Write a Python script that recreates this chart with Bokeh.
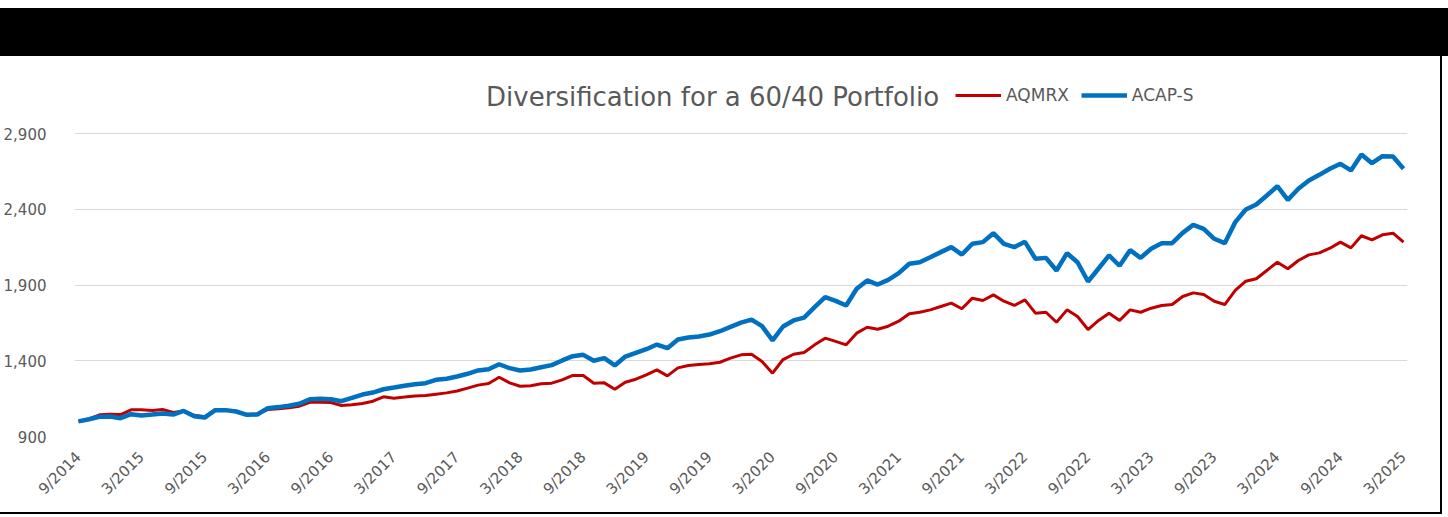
import math
import pandas as pd
from bokeh.plotting import figure
from bokeh.models import (Range1d, FixedTicker, NumeralTickFormatter, Legend,
                          LegendItem, Label, Div, ColumnDataSource)
from bokeh.layouts import column, row
from bokeh.embed import file_html
from bokeh.resources import INLINE

# ---- data -------------------------------------------------------------
months = [f"{d.month}/{d.year}" for d in pd.date_range("2014-09-01", periods=127, freq="MS")]

aqmrx = [1000, 1016, 1043, 1047, 1045, 1076, 1076, 1072, 1078, 1058,
         1069, 1040, 1030, 1074, 1074, 1065, 1045, 1047, 1078, 1083,
         1090, 1100, 1126, 1126, 1124, 1105, 1109, 1118, 1133, 1162,
         1153, 1160, 1168, 1170, 1179, 1188, 1200, 1219, 1239, 1250,
         1291, 1254, 1232, 1235, 1248, 1252, 1274, 1303, 1303, 1252,
         1254, 1212, 1258, 1278, 1307, 1340, 1300, 1353, 1369, 1375,
         1380, 1390, 1417, 1439, 1443, 1395, 1318, 1408, 1443, 1454,
         1505, 1549, 1528, 1505, 1582, 1621, 1608, 1628, 1661, 1710,
         1720, 1736, 1758, 1780, 1743, 1813, 1798, 1835, 1793, 1765,
         1802, 1714, 1720, 1654, 1736, 1692, 1606, 1666, 1714, 1666,
         1736, 1720, 1747, 1765, 1771, 1824, 1848, 1837, 1793, 1771,
         1864, 1925, 1941, 1996, 2050, 2007, 2062, 2099, 2112, 2143,
         2183, 2145, 2225, 2198, 2231, 2242, 2183]

acap_s = [1000, 1014, 1030, 1032, 1021, 1047, 1039, 1045, 1052, 1045,
          1069, 1034, 1025, 1074, 1074, 1065, 1043, 1045, 1087, 1094,
          1103, 1116, 1146, 1149, 1146, 1133, 1155, 1177, 1190, 1212,
          1223, 1235, 1245, 1252, 1274, 1281, 1296, 1314, 1336, 1344,
          1377, 1351, 1336, 1342, 1357, 1371, 1402, 1430, 1439, 1400,
          1417, 1369, 1428, 1452, 1476, 1507, 1483, 1540, 1553, 1560,
          1573, 1595, 1624, 1652, 1672, 1628, 1534, 1626, 1666, 1685,
          1754, 1820, 1795, 1765, 1875, 1930, 1903, 1934, 1978, 2040,
          2050, 2083, 2117, 2150, 2101, 2172, 2183, 2242, 2172, 2150,
          2185, 2073, 2079, 1996, 2110, 2050, 1923, 2009, 2095, 2027,
          2130, 2079, 2139, 2176, 2176, 2244, 2297, 2271, 2205, 2176,
          2315, 2398, 2431, 2491, 2552, 2462, 2535, 2590, 2627, 2667,
          2700, 2656, 2761, 2704, 2750, 2748, 2667]

tick_idx = list(range(0, len(months), 6))
tick_labels = [months[i] for i in tick_idx]
y_ticks = [900, 1400, 1900, 2400, 2900]

title_text = "Diversification for a 60/40 Portfolio"
series_names = ["AQMRX", "ACAP-S"]
colors = ["#C00000", "#0070C0"]
TEXT = "#595959"
FONT = "DejaVu Sans"

# ---- figure -----------------------------------------------------------
n = len(months)
px_per_idx = 1331 / (n - 1)
pad = 4 / px_per_idx
y_top = y_ticks[0] + 376 * (y_ticks[-1] - y_ticks[0]) / 303

src = ColumnDataSource(dict(x=list(range(n)), month=months, aqmrx=aqmrx, acap=acap_s))

p = figure(width=1440, height=456, output_backend="svg", toolbar_location=None,
           x_range=Range1d(-pad, n - 1 + pad), y_range=Range1d(y_ticks[0], y_top),
           min_border_left=68, min_border_right=33, min_border_top=4,
           min_border_bottom=76, margin=0)
p.outline_line_color = None
p.background_fill_color = "white"
p.border_fill_color = "white"

p.xgrid.visible = False
p.ygrid.ticker = FixedTicker(ticks=y_ticks)
p.ygrid.grid_line_color = "#D9D9D9"
p.ygrid.grid_line_width = 1

p.xaxis.ticker = FixedTicker(ticks=tick_idx)
p.xaxis.major_label_overrides = {i: lbl for i, lbl in zip(tick_idx, tick_labels)}
p.xaxis.major_label_orientation = math.pi / 4
p.xaxis.major_label_standoff = 12

p.yaxis.ticker = FixedTicker(ticks=y_ticks)
p.yaxis.formatter = NumeralTickFormatter(format="0,0")
p.yaxis.major_label_standoff = 22

for ax in (p.xaxis[0], p.yaxis[0]):
    ax.axis_line_color = None
    ax.major_tick_line_color = None
    ax.minor_tick_line_color = None
    ax.major_label_text_font = FONT
    ax.major_label_text_font_size = "15px"
    ax.major_label_text_color = TEXT

r_red = p.line("x", "aqmrx", source=src, line_color=colors[0], line_width=3)
r_blue = p.line("x", "acap", source=src, line_color=colors[1], line_width=4.5)

legend = Legend(items=[LegendItem(label=series_names[0], renderers=[r_red]),
                       LegendItem(label=series_names[1], renderers=[r_blue])],
                location=(881, 331), orientation="horizontal",
                glyph_width=46, glyph_height=20, label_standoff=5, spacing=12,
                padding=0, margin=0, border_line_color=None,
                background_fill_alpha=0, label_text_font=FONT,
                label_text_font_size="17px", label_text_color=TEXT)
p.add_layout(legend)

title = Label(x=(709 - 72) / px_per_idx, y=y_ticks[0] + (436 - 96) * 2000 / 303,
              text=title_text, text_align="center", text_baseline="alphabetic",
              text_font=FONT, text_font_size="26px", text_color=TEXT)
p.add_layout(title)

# ---- frame pieces (black header bar, right and bottom borders) ---------
bar = Div(text="", width=1448, height=48, margin=0,
          styles={"background-color": "#000000"})
vline = Div(text="", width=2, height=456, margin=0,
            styles={"background-color": "#000000"})
hline = Div(text="", width=1442, height=2, margin=0,
            styles={"background-color": "#000000"})

layout = column(bar, row(p, vline, margin=0, spacing=0), hline,
                margin=(8, 0, 0, 0), spacing=0)

open("out.html", "w").write(file_html(layout, INLINE))
